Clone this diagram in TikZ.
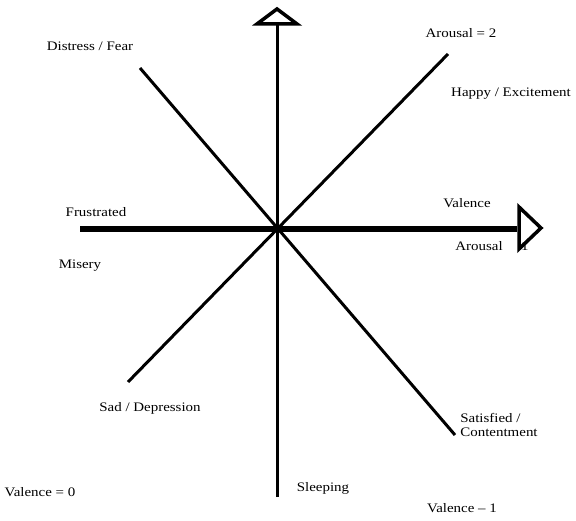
\documentclass[tikz,border=0pt]{standalone}
\usepackage{fontspec}
\setmainfont{Liberation Serif}
\begin{document}
\begin{tikzpicture}[x=1pt,y=-1pt,
  lbl/.style={font=\fontsize{13}{14}\selectfont, inner sep=0pt, xscale=1.15, transform shape},
  axis/.style={line width=3pt},
  tip/.style={line width=3.5pt, fill=white, line join=miter}]
\useasboundingbox (0,0) rectangle (576,521);
\coordinate (c) at (278,229);
% vertical axis
\coordinate (vtop) at (277,25);
\coordinate (vbot) at (277,497);
\draw[axis] (vbot) -- (vtop);
\draw[tip] (257,24) -- (277,9) -- (297,24) -- cycle;
% horizontal axis
\coordinate (hl) at (80,229);
\coordinate (hr) at (517,229);
\draw[line width=6pt] (hl) -- (hr);
\draw[tip] (519,207) -- (541,228) -- (519,249) -- cycle;
% diagonals
\coordinate (d1a) at (140,68);
\coordinate (d1b) at (455,435);
\draw[axis] (d1a) -- (d1b);
\coordinate (d2a) at (128,382);
\coordinate (d2b) at (448,54);
\draw[axis] (d2a) -- (d2b);
% labels
\node[lbl] (distress) at (90,46) {Distress / Fear};
\node[lbl] (ar2) at (461,33) {Arousal = 2};
\node[lbl] (happy) at (511,94) {Happy / Excitement};
\node[lbl] (frus) at (96,212) {Frustrated};
\node[lbl] (misery) at (80,266) {Misery};
\node[lbl] (val) at (467,203) {Valence};
\node[lbl] (ar1) at (492,246) {Arousal\hspace{16pt}1};
\node[lbl] (sad) at (150,408) {Sad / Depression};
\node[lbl, align=left] (sat) at (499,425) {Satisfied /\\Contentment};
\node[lbl] (v0) at (40,492) {Valence = 0};
\node[lbl] (sleep) at (323,488) {Sleeping};
\node[lbl] (v1) at (462,508) {Valence -- 1};
\end{tikzpicture}
\end{document}
